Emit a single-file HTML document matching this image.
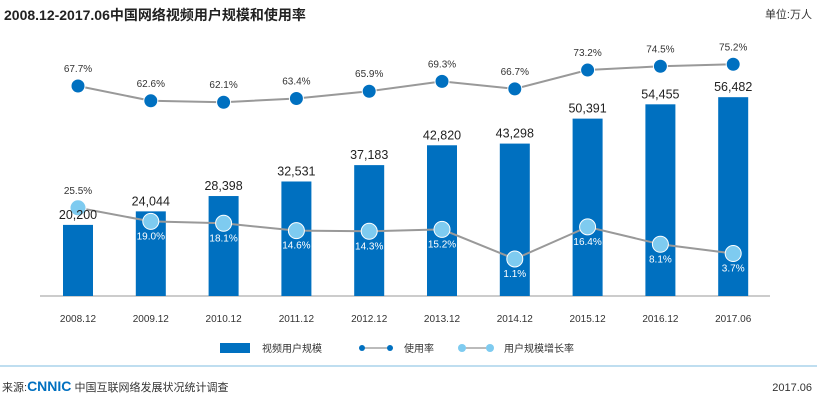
<!DOCTYPE html>
<html><head><meta charset="utf-8"><style>
body{margin:0;background:#fff;font-family:"Liberation Sans","Noto Sans CJK SC",sans-serif}
#c{position:relative;width:817px;height:400px;overflow:hidden}
</style></head><body>
<div id="c">
<svg id="s" width="817" height="400" xmlns="http://www.w3.org/2000/svg">
<text x="4" y="20" font-size="14" font-weight="bold" fill="#222" font-family="Liberation Sans, Noto Sans CJK SC, sans-serif">2008.12-2017.06中国网络视频用户规模和使用率</text>
<text x="812" y="18" font-size="11" text-anchor="end" fill="#333" font-family="Liberation Sans, Noto Sans CJK SC, sans-serif">单位:万人</text>
<line x1="40" y1="296" x2="770" y2="296" stroke="#bbb" stroke-width="1.5"/>
<g id="bars"></g><g id="lines"></g><g id="labels"></g>
<g font-size="10" fill="#333" font-family="Liberation Sans, Noto Sans CJK SC, sans-serif">
<rect x="220" y="343" width="30" height="10" fill="#0070c0"/>
<text x="262" y="352">视频用户规模</text>
<line x1="362" y1="348" x2="390" y2="348" stroke="#777"/>
<circle cx="362" cy="348" r="3" fill="#0070c0"/><circle cx="390" cy="348" r="3" fill="#0070c0"/>
<text x="404" y="352">使用率</text>
<line x1="462" y1="348" x2="490" y2="348" stroke="#777"/>
<circle cx="462" cy="348" r="4" fill="#7ecbf0"/><circle cx="490" cy="348" r="4" fill="#7ecbf0"/>
<text x="504" y="352">用户规模增长率</text>
</g>
<line x1="0" y1="366" x2="817" y2="366" stroke="#aad4ec" stroke-width="1.5"/>
<text x="2" y="391" font-size="11" fill="#333" font-family="Liberation Sans, Noto Sans CJK SC, sans-serif">来源:<tspan font-weight="bold" font-size="14" fill="#0070c0">CNNIC</tspan> 中国互联网络发展状况统计调查</text>
<text x="812" y="391" font-size="11" text-anchor="end" fill="#333">2017.06</text>
</svg>
<script>
const categories=["2008.12","2009.12","2010.12","2011.12","2012.12","2013.12","2014.12","2015.12","2016.12","2017.06"];
const users=[20200,24044,28398,32531,37183,42820,43298,50391,54455,56482];
const usage=[67.7,62.6,62.1,63.4,65.9,69.3,66.7,73.2,74.5,75.2];
const growth=[25.5,19.0,18.1,14.6,14.3,15.2,1.1,16.4,8.1,3.7];
const NS="http://www.w3.org/2000/svg";
const xPos=i=>78+i*72.8;
const yBar=v=>296-v*0.00352;
const yUse=v=>86-(v-67.7)*2.9;
const yGr=v=>259-(v-1.1)*2.1;
function mk(t,a,p){const e=document.createElementNS(NS,t);for(const k in a)e.setAttribute(k,a[k]);p.appendChild(e);return e;}
const bars=document.getElementById('bars'),lines=document.getElementById('lines'),labels=document.getElementById('labels');
categories.forEach((c,i)=>{
 const x=xPos(i),t=yBar(users[i]);
 const r=mk('rect',{x:x-15,y:t,width:30,height:296-t,fill:'#0070c0'},bars);
 
 
 const l=mk('text',{x:x,y:t-6,'font-size':12.5,'text-anchor':'middle',fill:'#222'},labels);
 l.textContent=users[i].toLocaleString('en-US');
 
 
 const xl=mk('text',{x:x,y:322,'font-size':10,'text-anchor':'middle',fill:'#333'},labels);
 xl.textContent=c;
 
 
});
function line(arr,yf,col,r,name,lblOff,lblCol,firstAbove){
 const p=mk('polyline',{points:arr.map((v,i)=>xPos(i)+','+yf(v)).join(' '),fill:'none',stroke:'#999','stroke-width':2},lines);
 
 
 arr.forEach((v,i)=>{
  const c=mk('circle',{cx:xPos(i),cy:yf(v),r:r,fill:col,stroke:'#fff','stroke-width':1},lines);
  
  
  const above=firstAbove&&i===0;
  const t=mk('text',{x:xPos(i),y:yf(v)+(above?-14:lblOff),'font-size':10,'text-anchor':'middle',fill:above?'#333':lblCol},labels);
  t.textContent=v.toFixed(1)+'%';
  
  
 });
}
line(usage,yUse,'#0070c0',7,'usage',-14,'#333',false);
line(growth,yGr,'#7ecbf0',8,'growth',18,'#fff',true);
</script>
</div></body></html>
